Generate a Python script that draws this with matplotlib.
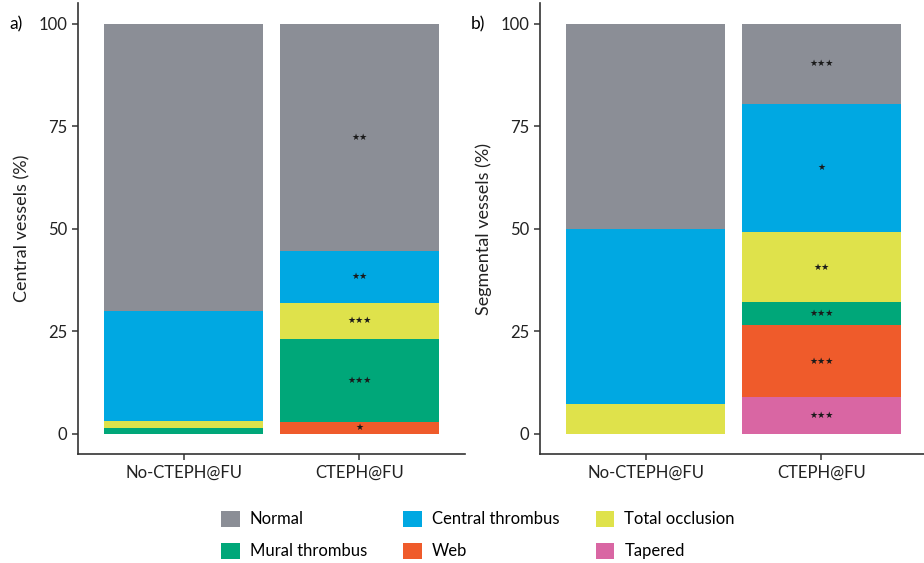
import matplotlib.pyplot as plt
from matplotlib.patches import Patch

plt.rcParams['font.family'] = ['Lato', 'DejaVu Sans']

groups = ["No-CTEPH@FU", "CTEPH@FU"]
# stacking order, bottom to top
categories = ["Tapered", "Web", "Mural thrombus", "Total occlusion", "Central thrombus", "Normal"]
colors = {"Normal": "#8b8e96", "Central thrombus": "#00a8e2", "Total occlusion": "#dfe24b",
          "Mural thrombus": "#00a779", "Web": "#ef5b2b", "Tapered": "#d966a3"}

# panel a: central vessels (%)
central = {
    "Tapered": [0, 0],
    "Web": [0, 2.8],
    "Mural thrombus": [1.4, 20.4],
    "Total occlusion": [1.6, 8.7],
    "Central thrombus": [26.8, 12.7],
    "Normal": [70.2, 55.4],
}
central_stars = {"Web": 1, "Mural thrombus": 3, "Total occlusion": 3,
                 "Central thrombus": 2, "Normal": 2}

# panel b: segmental vessels (%)
segmental = {
    "Tapered": [0, 9.0],
    "Web": [0, 17.4],
    "Mural thrombus": [0, 5.6],
    "Total occlusion": [7.2, 17.3],
    "Central thrombus": [42.8, 31.2],
    "Normal": [50.0, 19.5],
}
segmental_stars = {"Tapered": 3, "Web": 3, "Mural thrombus": 3,
                   "Total occlusion": 2, "Central thrombus": 1, "Normal": 3}

W, H = 924, 563
fig = plt.figure(figsize=(W / 100, H / 100), dpi=100)


def px_axes(x0, x1, y0, y1):
    return fig.add_axes([x0 / W, 1 - y1 / H, (x1 - x0) / W, (y1 - y0) / H])


def draw(ax, data, stars, ylabel):
    x = [1, 2]
    bottom = [0, 0]
    for cat in categories:
        vals = data[cat]
        ax.bar(x, vals, width=0.9, bottom=bottom, color=colors[cat], linewidth=0)
        if cat in stars:
            ax.text(2, bottom[1] + vals[1] / 2, "\u2605" * stars[cat], ha='center', va='center',
                    fontsize=6.5, color='#1a1a1a', family='DejaVu Sans')
        bottom = [b + v for b, v in zip(bottom, vals)]
    ax.set_xlim(0.4, 2.6)
    ax.set_ylim(-5, 105)
    ax.set_xticks(x)
    ax.set_xticklabels(groups)
    ax.set_yticks([0, 25, 50, 75, 100])
    ax.set_ylabel(ylabel, fontsize=13, color='#222222', labelpad=6)
    for s in ['top', 'right']:
        ax.spines[s].set_visible(False)
    for s in ['left', 'bottom']:
        ax.spines[s].set_color('#333333')
        ax.spines[s].set_linewidth(1.2)
    ax.tick_params(labelsize=12, colors='#333333', length=4, width=1.1, labelcolor='#222222')


ax1 = px_axes(78, 465, 3.5, 454)
draw(ax1, central, central_stars, "Central vessels (%)")
ax2 = px_axes(540, 927, 3.5, 454)
draw(ax2, segmental, segmental_stars, "Segmental vessels (%)")

fig.text(9 / W, 1 - 24 / H, "a)", fontsize=12.5, va='center', ha='left')
fig.text(471 / W, 1 - 24 / H, "b)", fontsize=12.5, va='center', ha='left')

legend_order = ["Normal", "Mural thrombus", "Central thrombus", "Web", "Total occlusion", "Tapered"]
handles = [Patch(facecolor=colors[c], edgecolor='none', label=c) for c in legend_order]
fig.legend(handles=handles, ncol=3, loc='center', bbox_to_anchor=(478 / W, 1 - 535 / H),
           frameon=False, fontsize=12, handlelength=1.1, handleheight=1.1,
           columnspacing=2.2, labelspacing=0.9, handletextpad=0.6)

fig.savefig("out.png", dpi=100)
